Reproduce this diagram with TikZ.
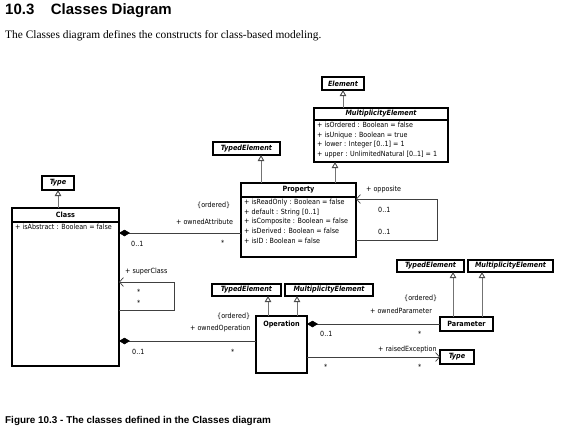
\documentclass[tikz,border=0pt]{standalone}
\usepackage{fontspec}
\setmainfont{Liberation Serif}
\setsansfont{Liberation Sans}
\newfontfamily\umlfont{DejaVu Sans Condensed}
\usetikzlibrary{arrows.meta,calc,positioning}

\tikzset{
  box/.style={draw, line width=1.1pt, inner sep=0pt, outer sep=0pt, anchor=north west},
  abstr/.style={box, font=\umlfont\bfseries\itshape\fontsize{7.2}{8}\selectfont},
  concrete/.style={box, font=\umlfont\bfseries\fontsize{7.2}{8}\selectfont},
  attrbody/.style={draw, line width=1.1pt, inner sep=0pt, outer sep=0pt},
  attrs/.style={anchor=north west, align=left, inner xsep=3pt, inner ysep=2pt,
    font=\umlfont\fontsize{7.1}{9.6}\selectfont},
  lbl/.style={anchor=west, inner sep=0pt, font=\umlfont\fontsize{7.1}{8}\selectfont},
  gen/.style={draw=black!55, line width=0.9pt,
    -{Triangle[open, length=6pt, width=6.5pt, fill=white, black!70]}},
  comp/.style={draw=black!75, line width=0.7pt,
    {Diamond[length=11pt, width=6.5pt, black]}-},
  nav/.style={draw=black!75, line width=0.7pt,
    -{Straight Barb[length=4pt, width=9pt, line width=0.7pt]}}
}

\begin{document}
\begin{tikzpicture}[x=1pt,y=-1pt]
  \useasboundingbox (0,0) rectangle (567,432);

  % heading, text and caption
  \node[anchor=north west, inner sep=0pt,
    font=\sffamily\bfseries\fontsize{15}{18}\selectfont] (title) at (5,3)
    {10.3\hspace{1.1em}Classes Diagram};
  \node[anchor=west, inner sep=0pt, font=\fontsize{11.4}{13}\selectfont] (intro)
    at (5,36) {The Classes diagram defines the constructs for class-based modeling.};
  \node[anchor=west, inner sep=0pt,
    font=\sffamily\bfseries\fontsize{9.9}{11}\selectfont] (caption) at (5,421)
    {Figure 10.3 - The classes defined in the Classes diagram};

  % Element and MultiplicityElement
  \node[abstr, minimum width=42pt, minimum height=13pt] (element) at (322,77) {Element};
  \node[abstr, minimum width=134pt, minimum height=12pt] (multel) at (314,108)
    {MultiplicityElement};
  \node[attrbody, below=0pt of multel, minimum width=134pt, minimum height=42pt]
    (multelbody) {};
  \node[attrs] at (multelbody.north west) {+ isOrdered : Boolean = false\\
    + isUnique : Boolean = true\\ + lower : Integer [0..1] = 1\\
    + upper : UnlimitedNatural [0..1] = 1};

  % Property
  \node[abstr, minimum width=67pt, minimum height=13pt] (typed1) at (213,142) {TypedElement};
  \node[concrete, minimum width=115pt, minimum height=14pt] (prop) at (241,183) {Property};
  \node[attrbody, below=0pt of prop, minimum width=115pt, minimum height=60pt]
    (propbody) {};
  \node[attrs] at (propbody.north west) {+ isReadOnly : Boolean = false\\
    + default : String [0..1]\\ + isComposite : Boolean = false\\
    + isDerived : Boolean = false\\ + isID : Boolean = false};

  % Type and Class
  \node[abstr, minimum width=32pt, minimum height=14pt] (type1) at (42,176) {Type};
  \node[concrete, minimum width=107pt, minimum height=14pt] (cls) at (12,208) {Class};
  \node[attrbody, below=0pt of cls, minimum width=107pt, minimum height=144pt]
    (clsbody) {};
  \node[attrs] at (clsbody.north west) {+ isAbstract : Boolean = false};

  % Operation
  \node[abstr, minimum width=69pt, minimum height=12pt] (typed2) at (212,284) {TypedElement};
  \node[abstr, minimum width=88pt, minimum height=12pt] (multel2) at (285,284)
    {MultiplicityElement};
  \node[box, minimum width=51pt, minimum height=57pt] (oper) at (256,316) {};
  \node[concrete, draw=none, anchor=north] (opername) at ([yshift=-5pt]oper.north)
    {Operation};

  % Parameter and Type
  \node[abstr, minimum width=67pt, minimum height=12pt] (typed3) at (397,260) {TypedElement};
  \node[abstr, minimum width=85pt, minimum height=12pt] (multel3) at (468,260)
    {MultiplicityElement};
  \node[concrete, minimum width=53pt, minimum height=14pt] (param) at (440,317) {Parameter};
  \node[abstr, minimum width=34pt, minimum height=14pt] (type2) at (440,350) {Type};

  % generalizations
  \draw[gen] (multel.north -| element.south) -- (element.south);
  \coordinate (propme) at ($(prop.north west)+(94,0)$);
  \coordinate (propte) at ($(prop.north west)+(20,0)$);
  \draw[gen] (propme) -- (propme |- multelbody.south);
  \draw[gen] (propte) -- (propte |- typed1.south);
  \draw[gen] (cls.north -| type1.south) -- (type1.south);
  \coordinate (opte) at ($(oper.north west)+(12,0)$);
  \coordinate (opme) at ($(oper.north west)+(41,0)$);
  \draw[gen] (opte) -- (opte |- typed2.south);
  \draw[gen] (opme) -- (opme |- multel2.south);
  \coordinate (parte) at ($(param.north west)+(13,0)$);
  \coordinate (parme) at ($(param.north west)+(42,0)$);
  \draw[gen] (parte) -- (parte |- typed3.south);
  \draw[gen] (parme) -- (parme |- multel3.south);

  % associations
  \draw[comp] (clsbody.east |- 0,233) -- (propbody.west |- 0,233);
  \node[lbl] (ordattr) at (197,205) {\{ordered\}};
  \node[lbl] (ownattr) at (176,222) {+ ownedAttribute};
  \node[lbl] (attrmult1) at (131,244) {0..1};
  \node[lbl] (attrmult2) at (221,243) {*};

  \draw[nav] (propbody.east |- 0,240) -| (437,199) -- (prop.east |- 0,199);
  \node[lbl] (opp) at (366,190) {+ opposite};
  \node[lbl] (oppmult1) at (378,210) {0..1};
  \node[lbl] (oppmult2) at (378,232) {0..1};

  \draw[nav] (clsbody.east |- 0,310) -| (174,282) -- (clsbody.east |- 0,282);
  \node[lbl] (super) at (125,272) {+ superClass};
  \node[lbl] (supmult1) at (137,292) {*};
  \node[lbl] (supmult2) at (137,303) {*};

  \draw[comp] (clsbody.east |- 0,341) -- (oper.west |- 0,341);
  \node[lbl] (ordop) at (217,316) {\{ordered\}};
  \node[lbl] (ownop) at (190,329) {+ ownedOperation};
  \node[lbl] (opmult1) at (132,352) {0..1};
  \node[lbl] (opmult2) at (231,352) {*};

  \draw[comp] (oper.east |- param.west) -- (param.west);
  \node[lbl] (ordpar) at (404,298) {\{ordered\}};
  \node[lbl] (ownpar) at (370,311) {+ ownedParameter};
  \node[lbl] (parmult1) at (320,334) {0..1};
  \node[lbl] (parmult2) at (418,334) {*};

  \draw[nav] (oper.east |- type2.west) -- (type2.west);
  \node[lbl] (raised) at (378,350) {+ raisedException};
  \node[lbl] (rmult1) at (324,367) {*};
  \node[lbl] (rmult2) at (418,367) {*};
\end{tikzpicture}
\end{document}
